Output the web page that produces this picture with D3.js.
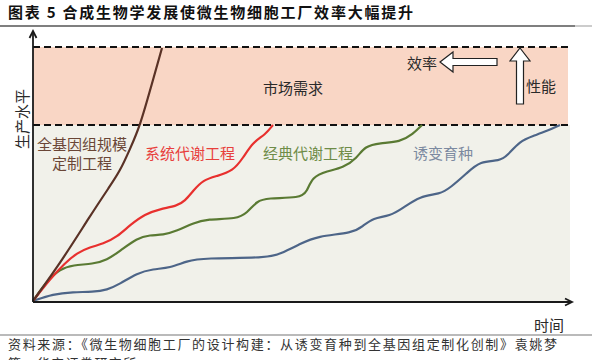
<!DOCTYPE html>
<html>
<head>
<meta charset="utf-8">
<script src="https://cdn.jsdelivr.net/npm/d3@7"></script>
<style>
  body { margin: 0; background: #fff; }
  svg { display: block; font-family: "Noto Sans CJK SC", sans-serif; }
</style>
</head>
<body>
<svg width="592" height="360"></svg>
<script>
// schematic: production level over time for four routes
const genomeX = [0, 6, 11.4, 15.4, 17.4, 19.4, 21.4, 23.6, 25.8];
const genomeY = [0, 21, 42.5, 57.5, 65, 76, 87.5, 107, 126.5];

const systemsX = [0, 3.4, 6.4, 8.8, 11.4, 14, 16.8, 19.4, 22.4, 25.4, 28.8, 30.4, 32, 34, 36.8, 40, 42, 44, 46.4, 48];
const systemsY = [0, 11, 19, 24, 27, 28.5, 32, 38, 43.5, 46, 47.5, 50, 55, 60.5, 62.5, 65, 71.5, 79.5, 83, 88];

const classicX = [0, 2.8, 5.4, 8, 12, 14.8, 17.4, 20.8, 23.4, 26, 28.8, 32, 34.8, 40.8, 42.8, 44.8, 46.8, 53.4, 54.8, 55.8, 58.8, 62, 64.8, 66.4, 69.4, 73.4, 76, 77.8];
const classicY = [0, 10, 16, 18, 18.5, 20.5, 25, 31.5, 33, 33, 35, 39, 41, 41, 44, 50, 51.5, 51.5, 54.5, 62, 65, 66.5, 71.5, 77.5, 79, 79.5, 83.5, 88];

const mutagX = [0, 4, 8, 12, 14.8, 17.4, 20.8, 24, 27.4, 30.8, 34, 46.8, 49.4, 53.4, 56.8, 64, 66, 68, 71.4, 74, 77.4, 81.4, 83.4, 86.8, 89.4, 93.4, 94.8, 97.4, 100, 102.8, 105.4];
const mutagY = [0, 3.5, 4.5, 4.5, 5.5, 8.5, 14, 16, 16.5, 20, 21.5, 21.5, 23.5, 28.5, 32.5, 34, 37.5, 41.5, 42.5, 46.5, 52.5, 53.5, 56.5, 64, 70, 70, 72.5, 80, 82.5, 85, 88];

const demandLow = 88;
const demandHigh = 127;

const titleText = "图表 5 合成生物学发展使微生物细胞工厂效率大幅提升";
const sourceLine1 = "资料来源：《微生物细胞工厂的设计构建：从诱变育种到全基因组定制化创制》袁姚梦";
const sourceLine2 = "等，华安证券研究所";

const svg = d3.select("svg");
const x = d3.scaleLinear().domain([0, 107]).range([33, 568]);
const y = d3.scaleLinear().domain([0, 127]).range([301, 47]);

// title + rules
svg.append("text").attr("x", 8).attr("y", 18)
  .attr("font-size", 15).attr("font-weight", "bold").attr("fill", "#111")
  .attr("textLength", 405).attr("lengthAdjust", "spacing")
  .text(titleText);
svg.append("line").attr("x1", 0).attr("x2", 575).attr("y1", 26).attr("y2", 26)
  .attr("stroke", "#555").attr("stroke-width", 1.5);
svg.append("line").attr("x1", 575).attr("x2", 592).attr("y1", 26).attr("y2", 26)
  .attr("stroke", "#bbb").attr("stroke-width", 1.5);

// background bands
svg.append("rect").attr("x", x(0)).attr("y", y(demandHigh))
  .attr("width", x(107) - x(0)).attr("height", y(demandLow) - y(demandHigh))
  .attr("fill", "#f9d6c5");
svg.append("rect").attr("x", x(0)).attr("y", y(demandLow))
  .attr("width", x(107) - x(0) + 2).attr("height", y(0) - y(demandLow))
  .attr("fill", "#f1f1ea");

[demandLow, demandHigh].forEach(v => {
  svg.append("line").attr("x1", x(0)).attr("x2", x(107))
    .attr("y1", y(v)).attr("y2", y(v))
    .attr("stroke", "#111").attr("stroke-width", 1.8)
    .attr("stroke-dasharray", "7,4");
});

// curves
const line = d3.line().x(d => x(d[0])).y(d => y(d[1])).curve(d3.curveBasis);
const series = [
  { xs: mutagX, ys: mutagY, color: "#4d6588" },
  { xs: classicX, ys: classicY, color: "#5a7a33" },
  { xs: systemsX, ys: systemsY, color: "#e8302e" },
  { xs: genomeX, ys: genomeY, color: "#5a3226" }
];
series.forEach(s => {
  svg.append("path")
    .datum(d3.zip(s.xs, s.ys))
    .attr("d", line)
    .attr("fill", "none")
    .attr("stroke", s.color)
    .attr("stroke-width", 2.2)
    .attr("stroke-linejoin", "round");
});

// axes with arrows
const ax = svg.append("g").attr("stroke", "#1a1a1a").attr("stroke-width", 1.8).attr("fill", "none");
ax.append("path").attr("d", `M${x(0)},${y(0) + 1}V32`);
ax.append("path").attr("d", `M${x(0) - 3.5},38L${x(0)},31L${x(0) + 3.5},38`);
ax.append("path").attr("d", `M${x(0)},${y(0) + 1}H572`);
ax.append("path").attr("d", `M565,${y(0) - 2.5}L572,${y(0) + 1}L565,${y(0) + 4.5}`);

// hollow arrows: efficiency (left) and performance (up)
const hollow = svg.append("g").attr("fill", "#fff").attr("stroke", "#222").attr("stroke-width", 1.2);
const ay = 62;
hollow.append("path").attr("d",
  `M440,${ay}L453,${ay - 10}V${ay - 3.5}H497V${ay + 3.5}H453V${ay + 10}Z`);
const ux = 520;
hollow.append("path").attr("d",
  `M${ux},48L${ux + 10},61H${ux + 3.5}V104H${ux - 3.5}V61H${ux - 10}Z`);

// labels
const lab = (t, px, py, color, anchor) => svg.append("text")
  .attr("x", px).attr("y", py).attr("font-size", 15).attr("fill", color)
  .attr("text-anchor", anchor || "start").attr("dominant-baseline", "central").text(t);

lab("市场需求", 263, 87, "#2a2a2a");
lab("效率", 407, 62, "#2a2a2a");
lab("性能", 526, 85, "#2a2a2a");
lab("全基因组规模", 82, 143, "#6a4636", "middle");
lab("定制工程", 82, 162, "#6a4636", "middle");
lab("系统代谢工程", 145, 152, "#e8403c");
lab("经典代谢工程", 263, 152, "#6e8c48");
lab("诱变育种", 413, 152, "#7c8aa0");
lab("时间", 534, 324, "#2a2a2a");

svg.append("text").attr("transform", "translate(21,119) rotate(-90)")
  .attr("font-size", 15).attr("fill", "#2a2a2a")
  .attr("text-anchor", "middle").attr("dominant-baseline", "central")
  .text("生产水平");

// source
svg.append("line").attr("x1", 0).attr("x2", 592).attr("y1", 335).attr("y2", 335)
  .attr("stroke", "#777").attr("stroke-width", 1.2);
svg.append("text").attr("x", 8).attr("y", 349)
  .attr("font-size", 13).attr("fill", "#333")
  .attr("textLength", 549).attr("lengthAdjust", "spacing")
  .text(sourceLine1);
svg.append("text").attr("x", 8).attr("y", 368)
  .attr("font-size", 13).attr("fill", "#333")
  .attr("letter-spacing", 1.4)
  .text(sourceLine2);
</script>
</body>
</html>
